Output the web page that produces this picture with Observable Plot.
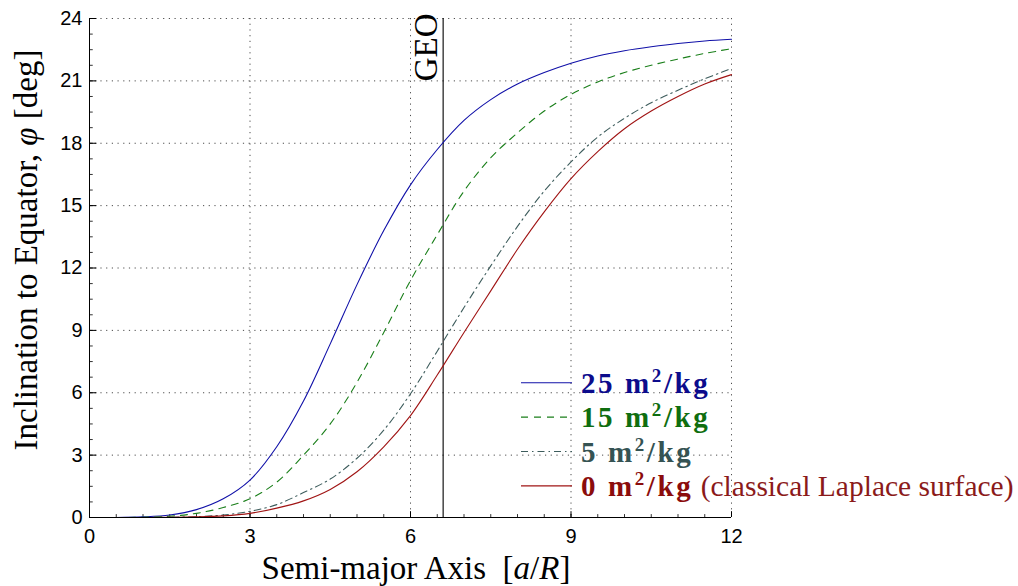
<!DOCTYPE html>
<html><head><meta charset="utf-8">
<script src="https://cdn.jsdelivr.net/npm/d3@7"></script>
<script src="https://cdn.jsdelivr.net/npm/@observablehq/plot@0.6"></script>
<style>body{margin:0;background:#fff}#chart{width:1018px;height:586px}</style>
</head><body><div id="chart"></div>
<script>
// Semi-major axis a/R
const aValues = [0,0.5,1,1.5,2,2.5,3,3.5,4,4.5,5,5.5,6,6.5,7,7.5,8,8.5,9,9.5,10,10.5,11,11.5,12];
// Inclination to equator (deg) for each area-to-mass ratio
const phi25 = [0,0,0.03,0.12,0.38,0.9,1.8,3.4,5.6,8.35,11.2,13.8,16.0,17.7,19.1,20.1,20.85,21.4,21.85,22.2,22.45,22.64,22.8,22.92,23.0];
const phi15 = [0,0,0.01,0.06,0.2,0.48,0.9,1.7,3.0,4.5,6.5,8.9,11.4,13.6,15.7,17.3,18.5,19.55,20.35,20.95,21.4,21.75,22.05,22.32,22.55];
const phi5  = [0,0,0,0.01,0.04,0.12,0.3,0.62,1.2,1.85,2.85,4.2,5.95,8.0,10.1,12.1,14.0,15.7,17.1,18.3,19.2,19.95,20.55,21.1,21.6];
const phi0  = [0,0,0,0.01,0.03,0.08,0.2,0.45,0.8,1.35,2.2,3.4,4.9,6.85,8.9,10.9,12.9,14.7,16.3,17.6,18.7,19.55,20.25,20.85,21.3];
const seriesNames = ["25", "15", "5", "0"];
const seriesValues = [phi25, phi15, phi5, phi0];
const lineColors = ["#1010a8", "#1a7f1a", "#3d5c5c", "#a01414"];
const textColors = ["#0c0c8c", "#0f6e0f", "#355353", "#8b0c0c"];
const dashes = [null, "7,6", "7,4,1.5,4", null];
const xTicks = [0,3,6,9,12];
const yTicks = [0,3,6,9,12,15,18,21,24];
const geoA = 6.61;

const rows = seriesNames.flatMap((s, i) => aValues.map((a, j) => ({a, phi: seriesValues[i][j], s, i})));
const xMinor = d3.range(0, 12.001, 0.5);
const yMinor = d3.range(0, 24.001, 0.75);
const serif = "'Liberation Serif', 'Times New Roman', serif";

const plot = Plot.plot({
  width: 1018, height: 586,
  marginLeft: 89, marginRight: 287, marginTop: 18, marginBottom: 69,
  style: {fontFamily: "'Liberation Sans', Arial, sans-serif", fontSize: "20px", background: "#fff", color: "#000", overflow: "visible"},
  x: {domain: [0, 12]},
  y: {domain: [0, 24]},
  marks: [
    Plot.gridX(xTicks.filter(d => d > 0), {stroke: "#222", strokeOpacity: 0.8, strokeDasharray: "1.2,4.5"}),
    Plot.gridY(yTicks.filter(d => d > 0), {stroke: "#222", strokeOpacity: 0.8, strokeDasharray: "1.2,4.5"}),
    Plot.ruleX(xMinor, {y1: 0, y2: 0.14, stroke: "#333"}),
    Plot.ruleX(xTicks, {y1: 0, y2: 0.28, stroke: "#000"}),
    Plot.ruleY(yMinor, {x1: 0, x2: 0.07, stroke: "#333"}),
    Plot.ruleY(yTicks, {x1: 0, x2: 0.14, stroke: "#000"}),
    Plot.axisX(xTicks, {tickSize: 0, tickPadding: 11, label: null}),
    Plot.axisY(yTicks, {tickSize: 0, tickPadding: 7, label: null}),
    Plot.ruleX([geoA], {stroke: "#000", strokeWidth: 1.1}),
    Plot.text(["GEO"], {x: geoA, y: 24, rotate: -90, textAnchor: "end", dx: -17, dy: -5, fontFamily: serif, fontSize: 33}),
    ...seriesNames.map((s, i) => Plot.line(rows.filter(d => d.i === i), {
      x: "a", y: "phi", stroke: lineColors[i], strokeWidth: 1.1,
      strokeDasharray: dashes[i], curve: "catmull-rom"
    })),
    Plot.ruleX([0], {stroke: "#000"}),
    Plot.ruleY([0], {stroke: "#000"})
  ]
});
document.getElementById("chart").appendChild(plot);

const svg = d3.select(plot);
// x axis label
const xl = svg.append("text").attr("x", 416).attr("y", 579).attr("text-anchor", "middle")
  .attr("font-family", serif).attr("font-size", 33).attr("fill", "#000");
xl.append("tspan").text("Semi-major Axis\u2002[");
xl.append("tspan").attr("font-style", "italic").text("a");
xl.append("tspan").text("/");
xl.append("tspan").attr("font-style", "italic").text("R");
xl.append("tspan").text("]");
// y axis label
const yl = svg.append("text").attr("transform", "translate(37,250) rotate(-90)").attr("text-anchor", "middle")
  .attr("font-family", serif).attr("font-size", 33).attr("fill", "#000");
yl.append("tspan").text("Inclination to Equator, ");
yl.append("tspan").attr("font-style", "italic").text("\u03C6");
yl.append("tspan").text(" [deg]");

// legend
const lg = svg.append("g").attr("text-anchor", "start");
seriesNames.forEach((s, i) => {
  const cy = 382.7 + i * 34.4;
  lg.append("line").attr("x1", 521).attr("x2", 572).attr("y1", cy).attr("y2", cy)
    .attr("stroke", lineColors[i]).attr("stroke-width", 1.1).attr("stroke-dasharray", dashes[i]);
  const t = lg.append("text").attr("x", 581).attr("y", cy + 10).attr("text-anchor", "start").attr("fill", textColors[i])
    .attr("font-family", serif).attr("font-size", 29).attr("font-weight", "bold").attr("letter-spacing", 2.6);
  t.append("tspan").text(s + " m");
  t.append("tspan").attr("dy", -11).attr("font-size", 19).text("2");
  t.append("tspan").attr("dy", 11).text("/kg");
  if (i === 3) t.append("tspan").attr("font-weight", "normal").attr("letter-spacing", 0).attr("font-size", 29.5).attr("fill", "#8b1a1a").text(" (classical Laplace surface)");
});
</script></body></html>
